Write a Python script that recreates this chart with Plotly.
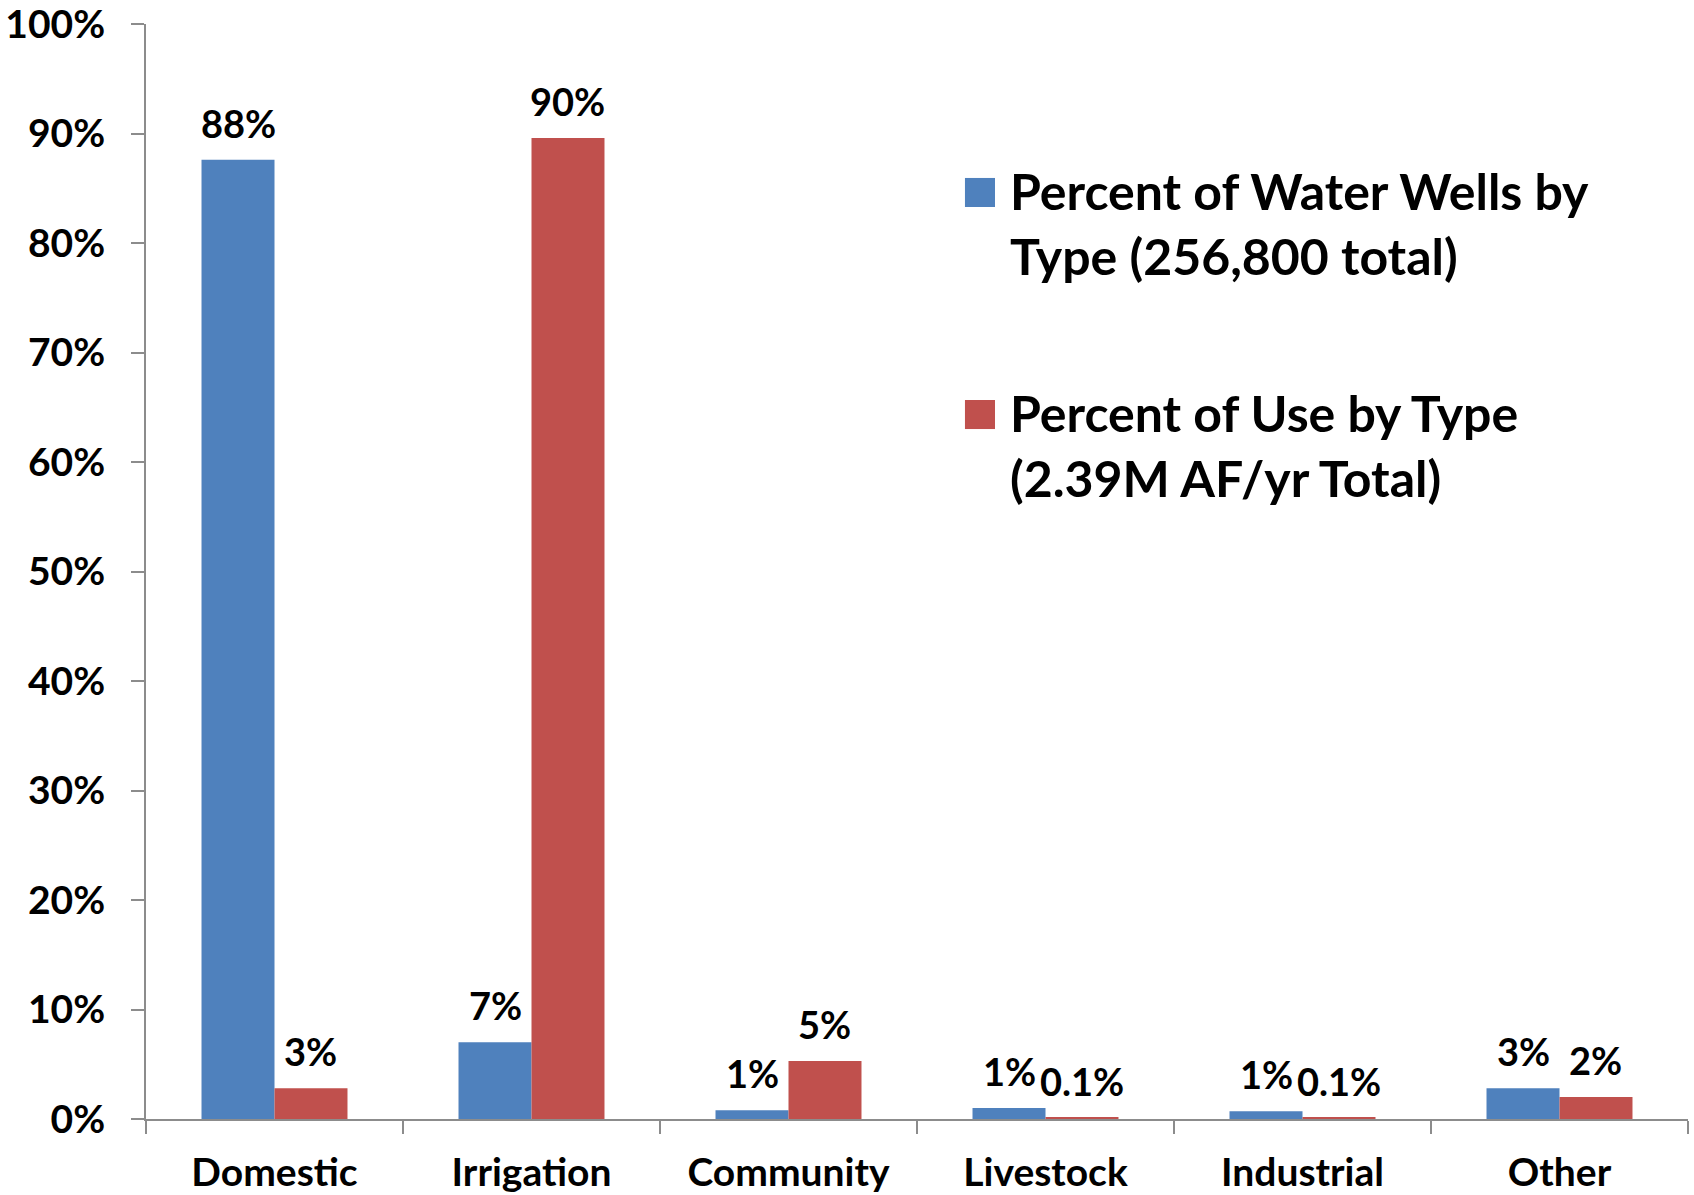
import plotly.graph_objects as go

categories = ["Domestic", "Irrigation", "Community", "Livestock", "Industrial", "Other"]
wells_pct = [87.6, 7.0, 0.8, 1.0, 0.7, 2.8]
use_pct = [2.8, 89.6, 5.3, 0.1, 0.1, 2.0]
wells_labels = ["88%", "7%", "1%", "1%", "1%", "3%"]
use_labels = ["3%", "90%", "5%", "0.1%", "0.1%", "2%"]
series_names = ["Percent of Water Wells by<br>Type (256,800 total)",
                "Percent of Use by Type<br>(2.39M AF/yr Total)"]
y_ticks = [0, 10, 20, 30, 40, 50, 60, 70, 80, 90, 100]

BLUE = "#4F81BD"
RED = "#C0504D"
FONT = "Lato"
AXIS = "#8c8c8c"
BARGAP = 0.432

fig = go.Figure()
fig.add_trace(go.Bar(x=categories, y=wells_pct, name="wells", marker_color=BLUE,
                     marker_line_width=0, showlegend=False))
fig.add_trace(go.Bar(x=categories, y=use_pct, name="use", marker_color=RED,
                     marker_line_width=0, showlegend=False))

off = (1 - BARGAP) / 4
annotations = []
for i in range(len(categories)):
    for vals, labs, sgn in ((wells_pct, wells_labels, -1), (use_pct, use_labels, 1)):
        annotations.append(dict(x=i + sgn * off, y=vals[i], xref="x", yref="y",
                                text=labs[i], showarrow=False, yanchor="middle",
                                xanchor="center", yshift=37,
                                font=dict(family=FONT, size=38, color="black", weight="bold")))

# legend (manual)
leg = [(BLUE, 0.8594, 0.8329, 0.8174, series_names[0]),
       (RED, 0.6566, 0.6301, 0.6151, series_names[1])]
shapes = []
for col, y1, y0, yc, txt in leg:
    shapes.append(dict(type="rect", xref="paper", yref="paper", x0=0.5311, x1=0.5506,
                       y0=y0, y1=y1, fillcolor=col, line_width=0))
    annotations.append(dict(x=0.5590, y=yc, xref="paper", yref="paper", text=txt,
                            showarrow=False, xanchor="left", yanchor="middle", align="left",
                            font=dict(family=FONT, size=50, color="black", weight="bold")))

fig.update_layout(
    width=1694, height=1195,
    margin=dict(l=146, r=6, t=24, b=76),
    paper_bgcolor="white", plot_bgcolor="white",
    barmode="group", bargap=BARGAP, bargroupgap=0,
    annotations=annotations, shapes=shapes,
    showlegend=False,
)
fig.update_xaxes(type="category", range=[-0.5, 5.5], tickson="boundaries",
                 ticks="outside", ticklen=13, tickcolor=AXIS, tickwidth=2,
                 showline=True, linecolor=AXIS, linewidth=2, showgrid=False,
                 ticklabelstandoff=18, automargin=False, ticklabeloverflow="allow",
                 tickfont=dict(family=FONT, size=39, color="black", weight="bold"))
fig.update_yaxes(range=[0, 100], tickvals=y_ticks, ticktext=[f"{v}%" for v in y_ticks],
                 ticks="outside", ticklen=13, tickcolor=AXIS, tickwidth=2,
                 showline=True, linecolor=AXIS, linewidth=2, showgrid=False, zeroline=False,
                 ticklabelstandoff=18, automargin=False, ticklabeloverflow="allow",
                 tickfont=dict(family=FONT, size=39, color="black", weight="bold"))

fig.write_html("out.html")
